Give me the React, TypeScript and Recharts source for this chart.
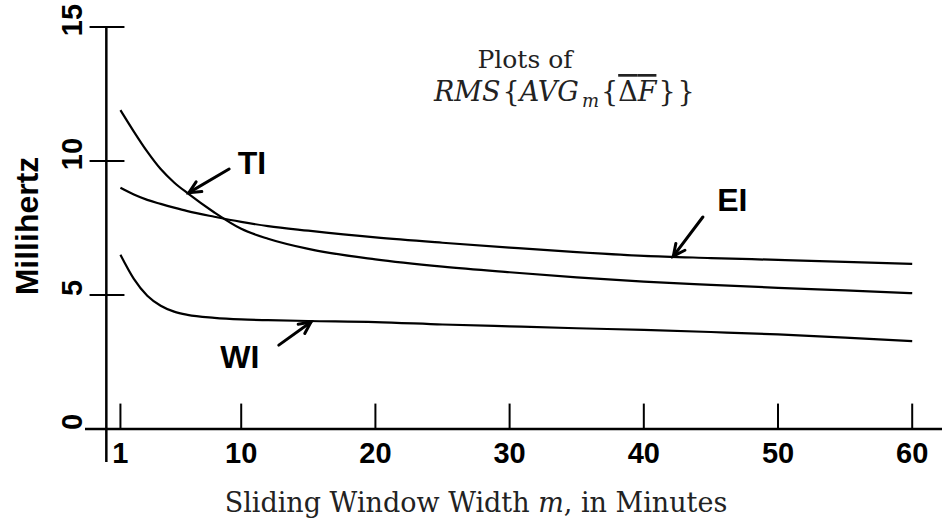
import { LineChart, Line, XAxis, YAxis, ReferenceLine, ReferenceDot } from "recharts";

// sliding window width m (minutes)
const windowMinutes = [1, 2, 3, 4, 5, 6, 8, 10, 12, 15, 20, 25, 30, 35, 40, 45, 50, 55, 60];
// RMS of averaged frequency deviation, millihertz
const tiValues = [11.9, 11.1, 10.35, 9.7, 9.2, 8.8, 8.08, 7.47, 7.1, 6.72, 6.33, 6.06, 5.85, 5.66, 5.5, 5.38, 5.27, 5.17, 5.07];
const eiValues = [9.0, 8.75, 8.55, 8.4, 8.26, 8.13, 7.92, 7.73, 7.57, 7.4, 7.15, 6.95, 6.77, 6.6, 6.46, 6.38, 6.31, 6.24, 6.16];
const wiValues = [6.5, 5.6, 4.97, 4.6, 4.38, 4.26, 4.15, 4.09, 4.06, 4.03, 3.99, 3.9, 3.83, 3.76, 3.7, 3.62, 3.53, 3.41, 3.28];

const xTicks = [1, 10, 20, 30, 40, 50, 60];
const yTicks = [0, 5, 10, 15];

// curve labels with arrows: text position, arrow tail, arrow tip (data coords)
const annotations = [
  { text: "TI", at: [10.8, 9.93], from: [9.1, 9.7], to: [6.1, 8.82] },
  { text: "EI", at: [46.6, 8.54], from: [44.4, 7.91], to: [42.2, 6.45] },
  { text: "WI", at: [9.9, 2.69], from: [12.8, 3.13], to: [15.2, 3.99] },
];

const data = windowMinutes.map((m, i) => ({
  m,
  ti: tiValues[i],
  ei: eiValues[i],
  wi: wiValues[i],
}));

const SANS = "'Liberation Sans', Arial, sans-serif";
const SERIF = "'DejaVu Serif', serif";

function XTick({ x, y, payload }: any) {
  return (
    <text x={x} y={y + 1} textAnchor="middle" fontFamily={SANS} fontWeight="bold" fontSize={29} fill="#000">
      {payload.value}
    </text>
  );
}

function YTick({ x, y, payload }: any) {
  const cx = x - 3;
  const cy = y - 7;
  return (
    <text
      x={cx}
      y={cy}
      transform={`rotate(-90, ${cx}, ${cy})`}
      textAnchor="middle"
      fontFamily={SANS}
      fontWeight="bold"
      fontSize={29}
      fill="#000"
    >
      {payload.value}
    </text>
  );
}

function Arrow(props: any) {
  const { x1, y1, x2, y2 } = props;
  const ang = Math.atan2(y2 - y1, x2 - x1);
  const len = 13;
  const spread = 0.45;
  const ax = x2 - len * Math.cos(ang - spread);
  const ay = y2 - len * Math.sin(ang - spread);
  const bx = x2 - len * Math.cos(ang + spread);
  const by = y2 - len * Math.sin(ang + spread);
  return (
    <g stroke="#000" strokeWidth={3} fill="none" strokeLinecap="round">
      <line x1={x1} y1={y1} x2={x2} y2={y2} />
      <polyline points={`${ax},${ay} ${x2},${y2} ${bx},${by}`} />
    </g>
  );
}

export default function App() {
  return (
    <div style={{ position: "absolute", left: 0, top: 0, background: "#fff" }}>
      <LineChart width={942} height={523} data={data} margin={{ top: 27, right: 0, bottom: 0, left: 0 }}>
        <XAxis
          type="number"
          dataKey="m"
          domain={[-1.64, 62.22]}
          ticks={xTicks}
          axisLine={false}
          tickLine={false}
          tickSize={0}
          tickMargin={0}
          height={61}
          tick={<XTick />}
          interval={0}
        />
        <YAxis
          type="number"
          domain={[-1.23, 15]}
          ticks={yTicks}
          axisLine={false}
          tickLine={false}
          tickSize={0}
          tickMargin={0}
          width={85}
          tick={<YTick />}
          interval={0}
          label={{
            content: () => (
              <text
                x={38}
                y={226}
                transform="rotate(-90, 38, 226)"
                textAnchor="middle"
                fontFamily={SANS}
                fontWeight="bold"
                fontSize={32}
                fill="#000"
              >
                Millihertz
              </text>
            ),
          }}
        />

        {/* axis lines */}
        <ReferenceLine y={0} stroke="#000" strokeWidth={2.5} />
        <ReferenceLine x={-0.05} stroke="#000" strokeWidth={2.5} />
        {xTicks.map((t) => (
          <ReferenceLine key={`xt${t}`} segment={[{ x: t, y: 0 }, { x: t, y: 0.95 }]} stroke="#000" strokeWidth={2} />
        ))}
        {yTicks.map((t) => (
          <ReferenceLine key={`yt${t}`} segment={[{ x: -1.3, y: t }, { x: 1.3, y: t }]} stroke="#000" strokeWidth={2} />
        ))}

        <Line dataKey="ti" type="monotone" stroke="#000" strokeWidth={2.2} dot={false} isAnimationActive={false} />
        <Line dataKey="ei" type="monotone" stroke="#000" strokeWidth={2.2} dot={false} isAnimationActive={false} />
        <Line dataKey="wi" type="monotone" stroke="#000" strokeWidth={2.2} dot={false} isAnimationActive={false} />

        {annotations.map((a) => (
          <ReferenceLine
            key={`arr${a.text}`}
            segment={[{ x: a.from[0], y: a.from[1] }, { x: a.to[0], y: a.to[1] }]}
            shape={<Arrow />}
          />
        ))}
        {annotations.map((a) => (
          <ReferenceDot
            key={`lab${a.text}`}
            x={a.at[0]}
            y={a.at[1]}
            r={0}
            shape={(p: any) => (
              <text
                x={p.cx}
                y={p.cy}
                dy={11}
                textAnchor="middle"
                fontFamily={SANS}
                fontWeight="bold"
                fontSize={32}
                fill="#000"
              >
                {a.text}
              </text>
            )}
          />
        ))}

        <text x={525} y={68} textAnchor="middle" fontFamily={SERIF} fontSize={25} fill="#222">
          Plots of
        </text>
        <text x={434} y={101} fontFamily={SERIF} fontSize={27} fill="#222">
          <tspan fontStyle="italic">RMS</tspan>
          <tspan dx={2}>{"{"}</tspan>
          <tspan fontStyle="italic">AVG</tspan>
          <tspan fontStyle="italic" fontSize={18} dx={3} dy={6}>m</tspan>
          <tspan dx={2} dy={-6}>{"{"}</tspan>
          <tspan textDecoration="overline">
            Δ<tspan fontStyle="italic">F</tspan>
          </tspan>
          <tspan dx={2}>{"}"}</tspan>
          <tspan dx={2}>{"}"}</tspan>
        </text>
        <text x={476} y={512} textAnchor="middle" fontFamily={SERIF} fontSize={27} fill="#222">
          Sliding Window Width <tspan fontStyle="italic">m</tspan>, in Minutes
        </text>
      </LineChart>
    </div>
  );
}
